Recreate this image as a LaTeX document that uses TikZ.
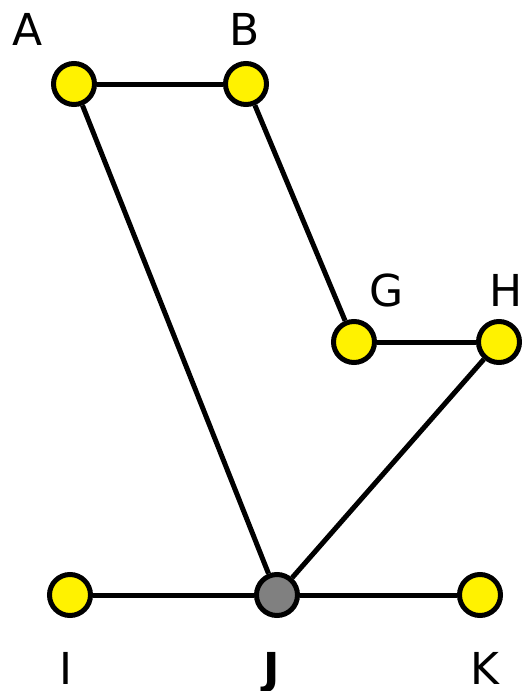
\documentclass[tikz,border=0pt]{standalone}
\usepackage{fontspec}
\setmainfont{DejaVu Sans}
\usepackage{tikz}

\tikzset{
  vert/.style={circle, draw=black, line width=5pt, fill=yellow, minimum size=41pt, inner sep=0pt},
  hub/.style={vert, fill=gray},
  lbl/.style={font=\fontsize{44}{44}\selectfont, inner sep=0pt, anchor=base},
  edge/.style={line width=5pt}
}

\begin{document}
\begin{tikzpicture}[x=1pt, y=-1pt]
      \useasboundingbox (0, 0) rectangle (522, 691);
      \node[vert] (A) at (74, 84) {};
      \node[vert] (B) at (246, 84) {};
      \node[vert] (G) at (354, 342) {};
      \node[vert] (H) at (499, 342) {};
      \node[vert] (I) at (70, 595) {};
      \node[hub] (J) at (277, 595) {};
      \node[vert] (K) at (480, 595) {};
      \node[lbl] (lA) at (28, 45) {A};
      \node[lbl] (lB) at (245, 45) {B};
      \node[lbl] (lG) at (387, 306) {G};
      \node[lbl] (lH) at (506, 306) {H};
      \node[lbl] (lI) at (66, 684) {I};
      \node[lbl] (lJ) at (272, 684) {\bfseries J};
      \node[lbl] (lK) at (485, 684) {K};
      \draw[edge] (A) -- (B);
      \draw[edge] (B) -- (G);
      \draw[edge] (G) -- (H);
      \draw[edge] (A) -- (J);
      \draw[edge] (H) -- (J);
      \draw[edge] (I) -- (J);
      \draw[edge] (J) -- (K);
\end{tikzpicture}
\end{document}
